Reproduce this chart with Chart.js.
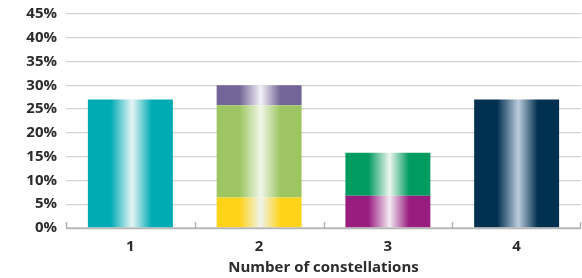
<!DOCTYPE html>
<html>
<head>
<meta charset="utf-8">
<script src="https://cdn.jsdelivr.net/npm/chart.js@4/dist/chart.umd.min.js"></script>
<style>
  html, body { margin: 0; padding: 0; background: #ffffff; }
  #wrap { width: 582px; height: 278px; position: relative; }
</style>
</head>
<body>
<div id="wrap"><canvas id="c" width="582" height="278"></canvas></div>
<script>
// ---- data ----
const categories = ['1', '2', '3', '4'];
const segmentBottom = [27, 6.4, 6.8, 27];
const segmentMiddle = [null, 19.4, 9.0, null];
const segmentTop = [null, 4.2, null, null];
const yTickValues = [0, 5, 10, 15, 20, 25, 30, 35, 40, 45];
const xTitle = 'Number of constellations';

// ---- styles ----
const bottomColors = ['#00abb4', '#ffd31a', '#981d7f', '#00304f'];
const bottomLights = ['#e6f5f5', '#eef3ec', '#f4ebf3', '#bccbdd'];
const middleColors = ['#9dc662', '#9dc662', '#009b5e', '#9dc662'];
const middleLights = ['#f1f6e8', '#f1f6e8', '#eef6f0', '#f1f6e8'];
const topColors = ['#736598', '#736598', '#736598', '#736598'];
const topLights = ['#f3f2f7', '#f3f2f7', '#f3f2f7', '#f3f2f7'];
const BAR_PCT = 0.66;

function gradFill(bases, lights) {
  return function (c) {
    const chart = c.chart;
    const xs = chart.scales && chart.scales.x;
    const base = bases[c.dataIndex];
    if (!xs || !chart.chartArea || xs.width === undefined) return base;
    const cx = xs.getPixelForValue(c.dataIndex);
    const w = (xs.width / categories.length) * BAR_PCT;
    const g = chart.ctx.createLinearGradient(cx - w / 2, 0, cx + w / 2, 0);
    g.addColorStop(0, base);
    g.addColorStop(0.27, base);
    g.addColorStop(0.52, lights[c.dataIndex]);
    g.addColorStop(0.75, base);
    g.addColorStop(1, base);
    return g;
  };
}

const tickMarks = {
  id: 'tickMarks',
  afterDatasetsDraw(chart) {
    const xs = chart.scales.x, ctx = chart.ctx;
    const bottom = chart.chartArea.bottom;
    const step = xs.width / categories.length;
    ctx.save();
    ctx.strokeStyle = '#b5b5b5';
    ctx.lineWidth = 1.5;
    for (let i = 0; i <= categories.length; i++) {
      const x = Math.round(xs.left + i * step) - (i === categories.length ? 1 : 0) + 0.5;
      ctx.beginPath();
      ctx.moveTo(x, bottom);
      ctx.lineTo(x, bottom - 6);
      ctx.stroke();
    }
    ctx.beginPath();
    ctx.moveTo(xs.left, bottom + 0.5);
    ctx.lineTo(xs.right, bottom + 0.5);
    ctx.stroke();
    ctx.restore();
  }
};

const fontFamily = '"Open Sans", "DejaVu Sans", sans-serif';

new Chart(document.getElementById('c'), {
  type: 'bar',
  data: {
    labels: categories,
    datasets: [
      { data: segmentBottom, backgroundColor: gradFill(bottomColors, bottomLights) },
      { data: segmentMiddle, backgroundColor: gradFill(middleColors, middleLights) },
      { data: segmentTop, backgroundColor: gradFill(topColors, topLights) }
    ]
  },
  options: {
    responsive: false,
    animation: false,
    events: [],
    barPercentage: BAR_PCT,
    categoryPercentage: 1,
    layout: { padding: { top: 14, right: 1, left: 0, bottom: 0 } },
    plugins: { legend: { display: false }, tooltip: { enabled: false } },
    scales: {
      x: {
        stacked: true,
        grid: { display: false, drawTicks: false },
        border: { display: false },
        ticks: { padding: 10, color: '#2b2b2b', font: { family: fontFamily, size: 15, weight: 'bold' } },
        title: {
          display: true, text: xTitle, color: '#2b2b2b',
          padding: { top: 3, bottom: 1 },
          font: { family: fontFamily, size: 15, weight: 'bold' }
        },
        afterFit(s) { s.height = 50; s.paddingLeft = 0; s.paddingRight = 0; }
      },
      y: {
        stacked: true,
        min: 0, max: 45,
        afterBuildTicks(s) { s.ticks = yTickValues.map(v => ({ value: v })); },
        grid: { color: '#d2d2d2', lineWidth: 1.3, drawTicks: false },
        border: { display: false },
        ticks: {
          padding: 9, color: '#2b2b2b',
          font: { family: fontFamily, size: 15, weight: 'bold' },
          callback: v => v + '%'
        },
        afterFit(s) { s.width = 66; s.paddingTop = 0; s.paddingBottom = 0; }
      }
    }
  },
  plugins: [tickMarks]
});
</script>
</body>
</html>
